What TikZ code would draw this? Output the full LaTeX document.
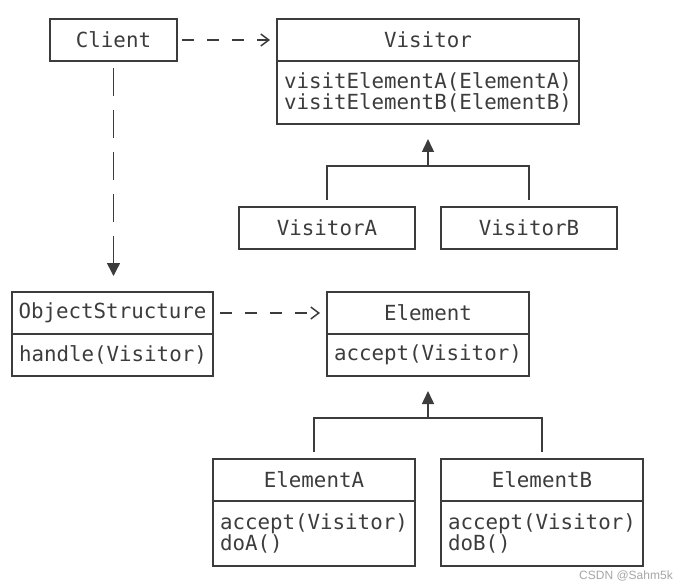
\documentclass[tikz,border=0pt]{standalone}
\usepackage{fontspec}
\setmainfont{DejaVu Sans Mono}
\newfontfamily\wmfont{Liberation Sans}
\usepackage{tikz}
\usetikzlibrary{arrows.meta,positioning}
\definecolor{umlgray}{HTML}{3c3c3c}

\begin{document}
\begin{tikzpicture}[x=1pt,y=-1pt,
  every node/.style={text=umlgray,font=\fontsize{20.8}{21.5}\selectfont},
  head/.style={draw=umlgray,line width=1.5pt,anchor=north west,outer sep=0pt,
    inner sep=0pt,minimum width=#1,minimum height=42pt},
  body/.style={draw=umlgray,line width=1.5pt,outer sep=0pt,inner xsep=7pt,
    inner ysep=0pt,align=left,text width=#1},
  dep/.style={draw=umlgray,line width=1.5pt,dash pattern=on 12pt off 13pt,
    -{Straight Barb[length=8pt,width=12pt]}},
  depv/.style={draw=umlgray,line width=1.5pt,dash pattern=on 28pt off 14pt,
    -{Triangle[length=13pt,width=13pt]}},
  inherit/.style={draw=umlgray,line width=1.5pt,-{Triangle[length=13pt,width=12pt]}},
  branch/.style={draw=umlgray,line width=1.5pt,shorten <=7pt,shorten >=7pt}]
\useasboundingbox (0,0) rectangle (685,588);

% Boxes
\node[head=127pt] (client) at (50,19) {Client};
\node[head=302pt] (visitor) at (277,19) {Visitor};
\node[body=288pt,minimum height=63pt,below=0pt of visitor] (visitorbody)
  {visitElementA(ElementA)\\visitElementB(ElementB)};
\node[head=176pt] (visitorA) at (239,207) {VisitorA};
\node[head=176pt] (visitorB) at (441,207) {VisitorB};

\node[head=201pt] (objstruct) at (12,292) {ObjectStructure};
\node[body=187pt,minimum height=42pt,below=0pt of objstruct] (objstructbody)
  {handle(Visitor)};
\node[head=202pt] (element) at (327,292) {Element};
\node[body=188pt,minimum height=42pt,below=0pt of element] (elementbody)
  {accept(Visitor)};

\node[head=202pt] (elementA) at (213,459) {ElementA};
\node[body=188pt,minimum height=65pt,below=0pt of elementA] (elementAbody)
  {accept(Visitor)\\doA()};
\node[head=202pt] (elementB) at (441,459) {ElementB};
\node[body=188pt,minimum height=65pt,below=0pt of elementB] (elementBbody)
  {accept(Visitor)\\doB()};

% Dependencies
\draw[dep,shorten <=5pt,shorten >=7pt] (client.east) -- (visitor.west);
\draw[depv,shorten <=7pt,shorten >=16pt] (client.south) -- (client.south |- objstruct.north);
\draw[dep,shorten <=7pt,shorten >=7pt] (objstruct.east) -- (element.west);

% Inheritance
\coordinate (vjoin) at (428,166);
\draw[inherit,shorten >=15pt] (vjoin) -- (visitorbody.south);
\draw[branch] (visitorA.north) |- (vjoin) -| (visitorB.north);

\coordinate (ejoin) at (428,418);
\draw[inherit,shorten >=15pt] (ejoin) -- (elementbody.south);
\draw[branch] (elementA.north) |- (ejoin) -| (elementB.north);

% Watermark
\node[text=gray!70,font=\wmfont\fontsize{12}{13}\selectfont] (mark) at (626,576) {CSDN @Sahm5k};
\end{tikzpicture}
\end{document}
